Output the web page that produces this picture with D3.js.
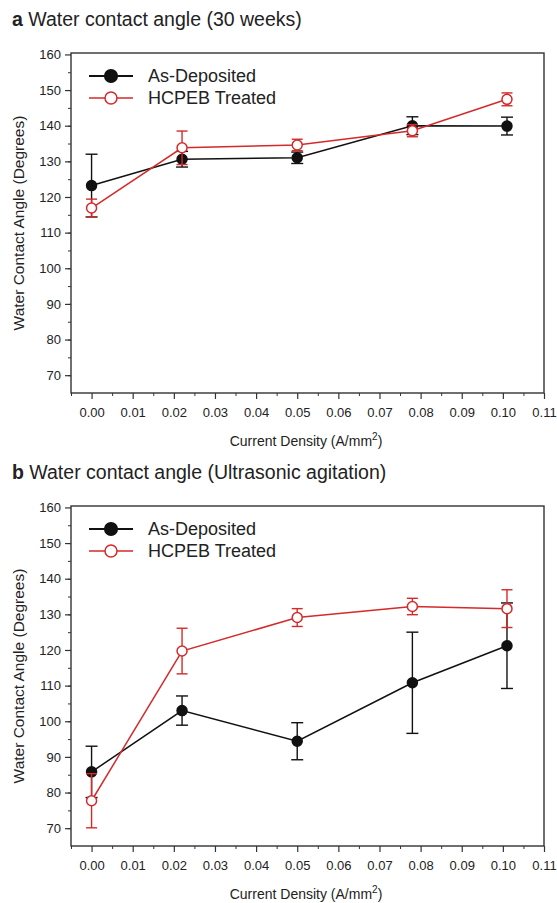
<!DOCTYPE html>
<html lang="en">
<head>
  <meta charset="UTF-8">
  <title>Water contact angle</title>
  <style>
    body { margin: 0; background: #fff; }
    svg text { font-family: "Liberation Sans", Arial, sans-serif; fill: #222; }
  </style>
</head>
<body>
  <script src="https://cdn.jsdelivr.net/npm/d3@7"></script>
  <script>
    let width = 557
    let height = 903

    // current density of each sample (A/mm2)
    let currentDensity = [0.000, 0.022, 0.050, 0.078, 0.101]
    let xTicks = [0, 0.01, 0.02, 0.03, 0.04, 0.05, 0.06, 0.07, 0.08, 0.09, 0.10, 0.11]
    let yTicks = [70, 80, 90, 100, 110, 120, 130, 140, 150, 160]
    let seriesNames = ['As-Deposited', 'HCPEB Treated']

    // a: 30 weeks
    let aAsDep = [123.2, 130.6, 131.0, 140.0, 139.9]
    let aAsDepErr = [8.8, 2.2, 1.6, 2.5, 2.5]
    let aHcpeb = [116.9, 133.8, 134.6, 138.6, 147.4]
    let aHcpebErr = [2.5, 4.7, 1.6, 1.7, 1.8]

    // b: ultrasonic agitation
    let bAsDep = [85.8, 103.0, 94.4, 110.8, 121.2]
    let bAsDepErr = [7.2, 4.1, 5.2, 14.2, 12.0]
    let bHcpeb = [77.7, 119.7, 129.1, 132.2, 131.6]
    let bHcpebErr = [7.6, 6.4, 2.5, 2.3, 5.3]

    let red = '#d42a2a'

    let svg = d3.select('body')
      .append('svg')
      .attr('width', width)
      .attr('height', height)

    let x = d3.scaleLinear()
      .domain([-0.005, 0.11])
      .range([71, 544])

    function drawPanel(top, letter, title, black, blackErr, redVals, redErr) {
      let g = svg.append('g')
      let bottom = top + 340
      let y = d3.scaleLinear()
        .domain([65, 160.4])
        .range([bottom, top])

      // title
      let t = g.append('text')
        .attr('x', 12)
        .attr('y', top - 27)
        .style('font-size', '19.5px')
      t.append('tspan').attr('font-weight', 'bold').text(letter)
      t.append('tspan').text(' ' + title)

      // frame
      g.append('rect')
        .attr('x', x.range()[0])
        .attr('y', top)
        .attr('width', x.range()[1] - x.range()[0])
        .attr('height', bottom - top)
        .attr('fill', 'none')
        .attr('stroke', '#333')
        .attr('stroke-width', 1.4)

      // y axis with minor ticks
      g.append('g')
        .attr('transform', `translate(${x.range()[0]},0)`)
        .call(d3.axisLeft(y).tickValues(d3.range(70, 160, 5)).tickSize(3).tickFormat(''))
        .call(a => a.select('.domain').remove())
        .call(a => a.selectAll('line').attr('stroke', '#333'))
      g.append('g')
        .attr('transform', `translate(${x.range()[0]},0)`)
        .call(d3.axisLeft(y).tickValues(yTicks).tickSize(6).tickPadding(4).tickFormat(d3.format('d')))
        .call(a => a.select('.domain').remove())
        .call(a => a.selectAll('line').attr('stroke', '#333').attr('stroke-width', 1.2))
        .call(a => a.selectAll('text').style('font-size', '13px').attr('fill', '#222'))

      // x axis with minor ticks
      g.append('g')
        .attr('transform', `translate(0,${bottom})`)
        .call(d3.axisBottom(x).tickValues(d3.range(-0.005, 0.11, 0.01)).tickSize(3).tickFormat(''))
        .call(a => a.select('.domain').remove())
        .call(a => a.selectAll('line').attr('stroke', '#333'))
      g.append('g')
        .attr('transform', `translate(0,${bottom})`)
        .call(d3.axisBottom(x).tickValues(xTicks).tickSize(6).tickPadding(9).tickFormat(d3.format('.2f')))
        .call(a => a.select('.domain').remove())
        .call(a => a.selectAll('line').attr('stroke', '#333').attr('stroke-width', 1.2))
        .call(a => a.selectAll('text').style('font-size', '13px').attr('fill', '#222'))

      // axis titles
      let xt = g.append('text')
        .attr('x', 306)
        .attr('y', bottom + 53)
        .attr('text-anchor', 'middle')
        .style('font-size', '14px')
      xt.append('tspan').text('Current Density (A/mm')
      xt.append('tspan').attr('dy', -6).style('font-size', '10px').text('2')
      xt.append('tspan').attr('dy', 6).text(')')

      g.append('text')
        .attr('transform', `translate(24,${(top + bottom) / 2}) rotate(-90)`)
        .attr('text-anchor', 'middle')
        .style('font-size', '15.5px')
        .text('Water Contact Angle (Degrees)')

      // series
      let series = [
        { vals: black, err: blackErr, color: '#111', fill: '#111', cap: 6 },
        { vals: redVals, err: redErr, color: red, fill: '#fff', cap: 5.5 }
      ]
      let line = d3.line()
        .x(d => x(d[0]))
        .y(d => y(d[1]))

      series.forEach(s => {
        let pts = currentDensity.map((c, i) => [c, s.vals[i], s.err[i]])
        let eb = g.append('g').attr('stroke', s.color).attr('stroke-width', 1.4)
        pts.forEach(p => {
          eb.append('line')
            .attr('x1', x(p[0])).attr('x2', x(p[0]))
            .attr('y1', y(p[1] - p[2])).attr('y2', y(p[1] + p[2]))
          ;[p[1] - p[2], p[1] + p[2]].forEach(v => {
            eb.append('line')
              .attr('x1', x(p[0]) - s.cap).attr('x2', x(p[0]) + s.cap)
              .attr('y1', y(v)).attr('y2', y(v))
          })
        })
        g.append('path')
          .datum(pts)
          .attr('d', line)
          .attr('fill', 'none')
          .attr('stroke', s.color)
          .attr('stroke-width', 1.5)
        g.selectAll(null)
          .data(pts)
          .enter()
          .append('circle')
          .attr('cx', d => x(d[0]))
          .attr('cy', d => y(d[1]))
          .attr('r', 5)
          .attr('fill', s.fill)
          .attr('stroke', s.color)
          .attr('stroke-width', 1.5)
      })

      // legend
      seriesNames.forEach((name, i) => {
        let ly = top + 23 + i * 22
        let s = series[i]
        g.append('line')
          .attr('x1', 89).attr('x2', 133)
          .attr('y1', ly).attr('y2', ly)
          .attr('stroke', s.color)
          .attr('stroke-width', i === 0 ? 2 : 1.5)
        g.append('circle')
          .attr('cx', 111).attr('cy', ly)
          .attr('r', i === 0 ? 6.3 : 6)
          .attr('fill', s.fill)
          .attr('stroke', s.color)
          .attr('stroke-width', 1.5)
        g.append('text')
          .attr('x', 148)
          .attr('y', ly + 6)
          .style('font-size', '18px')
          .text(name)
      })
    }

    drawPanel(53, 'a', 'Water contact angle (30 weeks)', aAsDep, aAsDepErr, aHcpeb, aHcpebErr)
    drawPanel(506, 'b', 'Water contact angle (Ultrasonic agitation)', bAsDep, bAsDepErr, bHcpeb, bHcpebErr)
  </script>
</body>
</html>
